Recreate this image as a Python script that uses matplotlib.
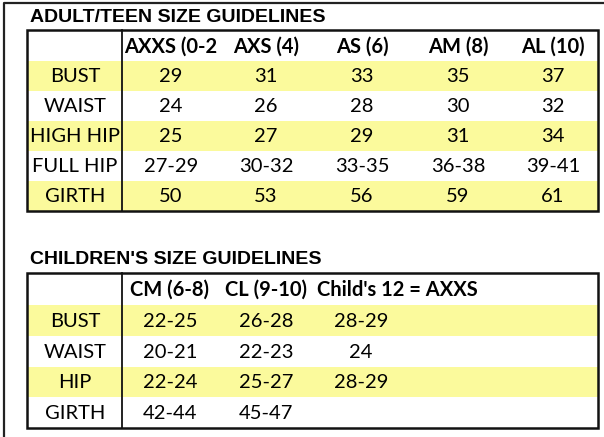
import matplotlib.pyplot as plt
from matplotlib.patches import Rectangle

# adult / teen table
adult_title = 'ADULT/TEEN SIZE GUIDELINES'
adult_cols = ['AXXS (0-2', 'AXS (4)', 'AS (6)', 'AM (8)', 'AL (10)']
adult_rows = ['BUST', 'WAIST', 'HIGH HIP', 'FULL HIP', 'GIRTH']
adult_vals = [
    ['29', '31', '33', '35', '37'],
    ['24', '26', '28', '30', '32'],
    ['25', '27', '29', '31', '34'],
    ['27-29', '30-32', '33-35', '36-38', '39-41'],
    ['50', '53', '56', '59', '61'],
]

# children table
child_title = "CHILDREN'S SIZE GUIDELINES"
child_cols = ['CM (6-8)', 'CL (9-10)', "Child's 12 = AXXS"]
child_rows = ['BUST', 'WAIST', 'HIP', 'GIRTH']
child_vals = [
    ['22-25', '26-28', '28-29'],
    ['20-21', '22-23', '24'],
    ['22-24', '25-27', '28-29'],
    ['42-44', '45-47', ''],
]

yellow = '#FBFA9C'
cell_font = 'Lato'
fs = 14.5
W, H = 604, 437

fig = plt.figure(figsize=(W / 100, H / 100), dpi=100)
ax = fig.add_axes([0, 0, 1, 1])
ax.set_xlim(0, W)
ax.set_ylim(H, 0)
ax.axis('off')

# outer frame (only top and left visible)
ax.plot([4, 4, W + 5], [H + 5, 3, 3], color='#222222', lw=1.6)


def draw_table(title, cols, rows, vals, top, title_y, hdr_h, row_h, col_x, last_left=False):
    left, right, div = 27, 598, 122
    ax.text(30, title_y, title, fontsize=14, fontweight='bold', family='Liberation Sans',
            ha='left', va='center')
    n = len(rows)
    bottom = top + hdr_h + n * row_h
    for i, r in enumerate(rows):
        y0 = top + hdr_h + i * row_h
        if i % 2 == 0:
            ax.add_patch(Rectangle((left, y0), right - left, row_h, color=yellow, lw=0, zorder=1))
        yc = y0 + row_h / 2 + 1
        ax.text(75, yc, r, fontsize=fs, family=cell_font, ha='center', va='center', zorder=3)
        for j, v in enumerate(vals[i]):
            ax.text(col_x[j], yc, v, fontsize=fs, family=cell_font, ha='center', va='center', zorder=3)
    for j, c in enumerate(cols):
        if last_left and j == len(cols) - 1:
            ax.text(317, top + hdr_h / 2 + 1, c, fontsize=fs, fontweight='bold', family=cell_font,
                    ha='left', va='center', zorder=3)
        else:
            ax.text(col_x[j], top + hdr_h / 2 + 1, c, fontsize=fs, fontweight='bold', family=cell_font,
                    ha='center', va='center', zorder=3)
    ax.add_patch(Rectangle((left, top), right - left, bottom - top, fill=False,
                           ec='#111111', lw=1.8, zorder=4))
    ax.plot([div, div], [top, bottom], color='#111111', lw=1.3, zorder=4)


draw_table(adult_title, adult_cols, adult_rows, adult_vals,
           top=30, title_y=18, hdr_h=31, row_h=30, col_x=[171, 266, 362, 458, 553])
draw_table(child_title, child_cols, child_rows, child_vals,
           top=273, title_y=259, hdr_h=32, row_h=30.75, col_x=[170, 266, 361], last_left=True)

fig.savefig('out.png', dpi=100)
